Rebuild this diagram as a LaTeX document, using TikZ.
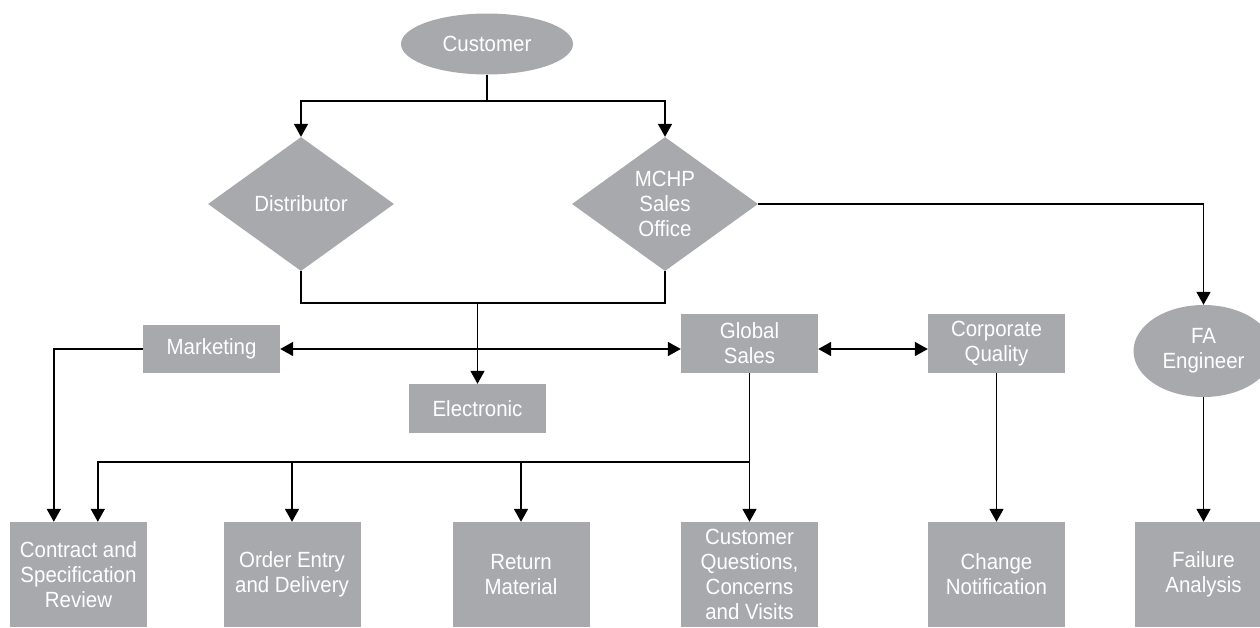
\documentclass[tikz,border=0pt]{standalone}
\usepackage{fontspec}
\setmainfont[FakeStretch=0.93]{Liberation Sans}
\usetikzlibrary{shapes.geometric,arrows.meta,calc}

\definecolor{boxgray}{RGB}{167,169,172}

\tikzset{
  txt/.style={text=white, font=\fontsize{22}{25}\selectfont, align=center},
  unit/.style={txt, rectangle, fill=boxgray, inner sep=0pt, minimum width=137pt},
  oval/.style={txt, ellipse, fill=boxgray, inner sep=0pt},
  decision/.style={diamond, fill=boxgray, inner sep=0pt, minimum width=186pt, minimum height=134pt},
  link/.style={line width=1.7pt},
  arr/.style={link, -{Triangle[width=14pt,length=13pt]}},
  darr/.style={link, {Triangle[width=14pt,length=13pt]}-{Triangle[width=14pt,length=13pt]}}
}

\begin{document}
\begin{tikzpicture}[x=1pt, y=-1pt]
  \useasboundingbox (0,0) rectangle (1260,627);

  % top level
  \node[oval, minimum width=172pt, minimum height=61pt] (cust) at (487,44) {Customer};
  \node[decision, label={[txt]center:Distributor}] (dist) at (301,204) {};
  \node[decision, label={[txt]center:MCHP\\Sales\\Office}] (mchp) at (665,204) {};
  \node[oval, minimum width=140pt, minimum height=92pt] (fa) at (1203.5,351) {FA\\Engineer};

  % middle level
  \node[unit, minimum height=48pt] (mkt) at (211.5,349) {Marketing};
  \node[unit, minimum height=49pt] (elec) at (477.5,408.5) {Electronic};
  \node[unit, minimum height=59pt] (gs) at (749.5,343.5) {Global\\Sales};
  \node[unit, minimum height=59pt] (cq) at (996.5,343.5) {Corporate\\Quality};

  % bottom level
  \node[unit, minimum height=105pt] (csr) at (78.5,574.5) {Contract and\\Specification\\Review};
  \node[unit, minimum height=105pt] (oed) at (292,574.5) {Order Entry\\and Delivery};
  \node[unit, minimum height=105pt] (rm) at (521,574.5) {Return\\Material};
  \node[unit, minimum height=105pt] (cqcv) at (749.5,574.5) {Customer\\Questions,\\Concerns\\and Visits};
  \node[unit, minimum height=105pt] (cn) at (996.5,574.5) {Change\\Notification};
  \node[unit, minimum height=105pt] (fail) at (1203.5,574.5) {Failure\\Analysis};

  % junction points
  \coordinate (split) at (487,101);
  \coordinate (join) at (477.5,303);
  \coordinate (bus) at (749.5,462);
  \coordinate (csrA) at ($(csr.north west)+(44,0)$);
  \coordinate (csrB) at ($(csr.north west)+(88,0)$);

  % customer to channels
  \draw[link] (cust.south) -- (split);
  \draw[arr] (split) -| (dist.north);
  \draw[arr] (split) -| (mchp.north);
  \draw[arr] (mchp.east) -| (fa.north);

  % channels to electronic
  \draw[link] (dist.south) -- (dist.south |- join) -- (mchp.south |- join) -- (mchp.south);
  \draw[arr] (join) -- (elec.north);

  % marketing / global sales / corporate quality
  \draw[darr] (mkt.east) -- (mkt.east -| gs.west);
  \draw[darr] (gs.east |- mkt.east) -- (cq.west |- mkt.east);
  \draw[arr] (mkt.west) -| (csrA);

  % global sales distribution
  \draw[arr] (gs.south) -- (cqcv.north);
  \draw[arr] (bus) -| (csrB);
  \draw[arr] (oed.north |- bus) -- (oed.north);
  \draw[arr] (rm.north |- bus) -- (rm.north);

  % quality and failure analysis
  \draw[arr] (cq.south) -- (cn.north);
  \draw[arr] (fa.south) -- (fail.north);
\end{tikzpicture}
\end{document}
